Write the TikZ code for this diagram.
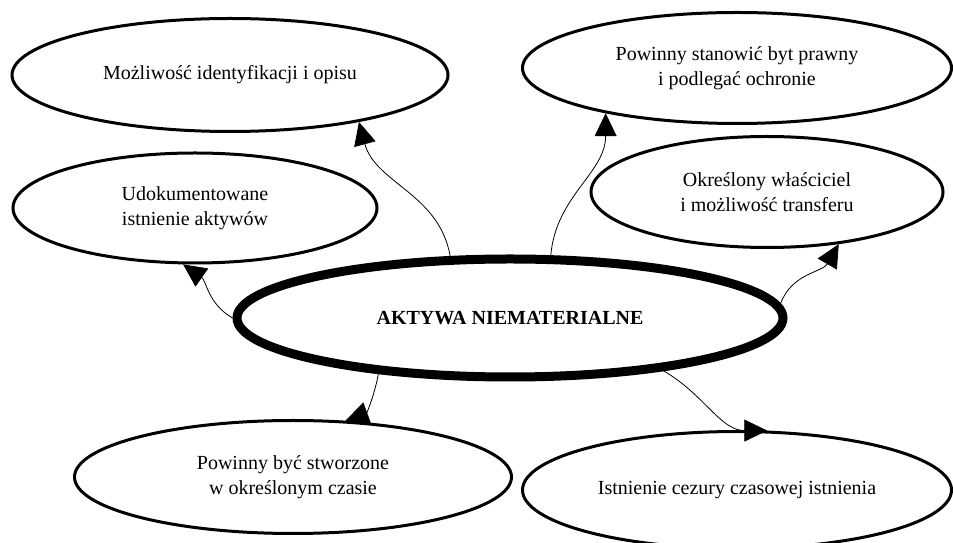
\documentclass[tikz,border=0pt]{standalone}
\usepackage{fontspec}
\setmainfont{Liberation Serif}
\usetikzlibrary{
  arrows.meta,
  shapes.geometric
}
\tikzset{
  bubble/.style={draw, ellipse, line width=3pt, inner sep=0pt,
    align=center, font=\fontsize{20}{25}\selectfont},
  corebubble/.style={bubble, line width=9pt,
    font=\fontsize{20}{25}\selectfont\bfseries},
  arr/.style={-{Triangle[length=23pt, width=22pt]}, line width=0.8pt},
}

\begin{document}
\begin{tikzpicture}[x=1pt, y=1pt]
  \useasboundingbox (0,0) rectangle (953,543);

  % Centre: the main notion
  \node[corebubble, minimum width=546pt, minimum height=118pt] (core)
    at (510,225) {AKTYWA NIEMATERIALNE};

  % Upper row
  \node[bubble, minimum width=436pt, minimum height=113pt] (ident)
    at (230,468) {Możliwość identyfikacji i opisu};
  \node[bubble, minimum width=429pt, minimum height=111pt] (legal)
    at (737,475) {Powinny stanowić byt prawny\\ i podlegać ochronie};

  % Middle row
  \node[bubble, minimum width=364pt, minimum height=110pt] (docs)
    at (195,335) {Udokumentowane\\ istnienie aktywów};
  \node[bubble, minimum width=352pt, minimum height=111pt] (owner)
    at (767,351) {Określony właściciel\\ i możliwość transferu};

  % Lower row
  \node[bubble, minimum width=437pt, minimum height=113pt] (created)
    at (293,66) {Powinny być stworzone\\ w określonym czasie};
  \node[bubble, minimum width=429pt, minimum height=117pt] (cut)
    at (737,53) {Istnienie cezury czasowej istnienia};

  % Arrows
  \draw[arr] (core.134) to[out=100, in=-75] (ident.340);
  \draw[arr] (core.57)  to[out=85, in=-90]  (legal.199);
  \draw[arr] (core.180) to[out=150, in=-35] (docs.258);
  \draw[arr] (core.3)   to[out=70, in=-120] (owner.324);
  \draw[arr] (core.203) to[out=-100, in=20] (created.47);
  \draw[arr] (core.341) to[out=-30, in=180] (cut.63);
\end{tikzpicture}
\end{document}
